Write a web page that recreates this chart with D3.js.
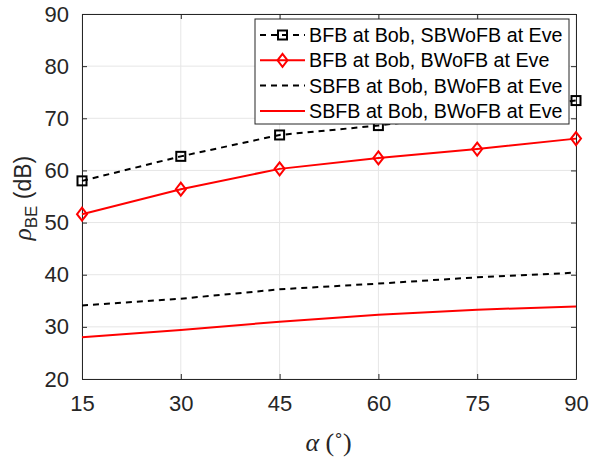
<!DOCTYPE html>
<html>
<head>
<meta charset="utf-8">
<script src="https://cdn.jsdelivr.net/npm/d3@7"></script>
<style>
  body { margin: 0; background: #fff; }
  svg { display: block; }
</style>
</head>
<body>
<svg id="chart" width="590" height="457"></svg>
<script>
const alphas = [15, 30, 45, 60, 75, 90];
const bfbSbwofb = [58.0, 62.7, 66.8, 68.6, 71.0, 73.4];
const bfbBwofb = [51.6, 56.4, 60.3, 62.4, 64.1, 66.1];
const sbfbBwofbDash = [34.1, 35.4, 37.2, 38.3, 39.5, 40.4];
const sbfbBwofbSolid = [28.0, 29.4, 31.0, 32.3, 33.3, 33.9];
const xTicks = [15, 30, 45, 60, 75, 90];
const yTicks = [20, 30, 40, 50, 60, 70, 80, 90];
const legendLabels = [
  "BFB at Bob, SBWoFB at Eve",
  "BFB at Bob, BWoFB at Eve",
  "SBFB at Bob, BWoFB at Eve",
  "SBFB at Bob, BWoFB at Eve"
];

const series = [
  { values: bfbSbwofb, color: "#000", dash: "6,5", marker: "square", label: legendLabels[0] },
  { values: bfbBwofb, color: "#ff0000", dash: null, marker: "diamond", label: legendLabels[1] },
  { values: sbfbBwofbDash, color: "#000", dash: "6,5", marker: null, label: legendLabels[2] },
  { values: sbfbBwofbSolid, color: "#ff0000", dash: null, marker: null, label: legendLabels[3] }
];

const svg = d3.select("#chart");
const L = 82, R = 576, T = 14, B = 379;
const x = d3.scaleLinear().domain([15, 90]).range([L, R]);
const y = d3.scaleLinear().domain([20, 90]).range([B, T]);
const axisColor = "#262626";
const font = "'Liberation Sans', Arial, Helvetica, sans-serif";
const serif = "'Liberation Serif', 'DejaVu Serif', serif";

// grid
const grid = svg.append("g");
xTicks.forEach(t => grid.append("line").attr("x1", x(t)).attr("x2", x(t)).attr("y1", T).attr("y2", B)
  .attr("stroke", "#e6e6e6").attr("stroke-width", 1));
yTicks.forEach(t => grid.append("line").attr("x1", L).attr("x2", R).attr("y1", y(t)).attr("y2", y(t))
  .attr("stroke", "#e6e6e6").attr("stroke-width", 1));

// axes (MATLAB box with inward ticks)
const tickLen = 5;
const xAxisB = d3.axisBottom(x).tickValues(xTicks).tickSize(-tickLen).tickPadding(tickLen + 11).tickSizeOuter(0);
const xAxisT = d3.axisTop(x).tickValues(xTicks).tickSize(-tickLen).tickFormat("").tickSizeOuter(0);
const yAxisL = d3.axisLeft(y).tickValues(yTicks).tickSize(-tickLen).tickPadding(tickLen + 8).tickSizeOuter(0);
const yAxisR = d3.axisRight(y).tickValues(yTicks).tickSize(-tickLen).tickFormat("").tickSizeOuter(0);

function styleAxis(g) {
  g.selectAll("path").attr("stroke", axisColor).attr("stroke-width", 1);
  g.selectAll("line").attr("stroke", axisColor).attr("stroke-width", 1);
  g.selectAll("text").attr("fill", axisColor).style("font-family", font).style("font-size", "22px");
}
svg.append("g").attr("transform", `translate(0,${B})`).call(xAxisB).call(styleAxis);
svg.append("g").attr("transform", `translate(0,${T})`).call(xAxisT).call(styleAxis);
svg.append("g").attr("transform", `translate(${L},0)`).call(yAxisL).call(styleAxis);
svg.append("g").attr("transform", `translate(${R},0)`).call(yAxisR).call(styleAxis);

// lines
const line = d3.line().x((d, i) => x(alphas[i])).y(d => y(d));
const plot = svg.append("g");

function drawMarker(g, type, cx, cy, color) {
  if (type === "square") {
    g.append("rect").attr("x", cx - 4.5).attr("y", cy - 4.5).attr("width", 9).attr("height", 9)
      .attr("fill", "none").attr("stroke", color).attr("stroke-width", 2);
  } else if (type === "diamond") {
    g.append("path").attr("d", `M${cx},${cy - 6.5}L${cx + 5},${cy}L${cx},${cy + 6.5}L${cx - 5},${cy}Z`)
      .attr("fill", "none").attr("stroke", color).attr("stroke-width", 2);
  }
}

series.forEach(s => {
  plot.append("path").datum(s.values).attr("d", line)
    .attr("fill", "none").attr("stroke", s.color).attr("stroke-width", 2)
    .attr("stroke-dasharray", s.dash);
  if (s.marker) {
    s.values.forEach((v, i) => drawMarker(plot, s.marker, x(alphas[i]), y(v), s.color));
  }
});

// legend
const lg = svg.append("g");
const lx = 255, ly = 19, lw = 314, lh = 105;
lg.append("rect").attr("x", lx).attr("y", ly).attr("width", lw).attr("height", lh)
  .attr("fill", "#fff").attr("stroke", axisColor).attr("stroke-width", 1);
series.forEach((s, i) => {
  const cy = 35 + i * 25.3;
  lg.append("line").attr("x1", 260).attr("x2", 305).attr("y1", cy).attr("y2", cy)
    .attr("stroke", s.color).attr("stroke-width", 2).attr("stroke-dasharray", s.dash);
  if (s.marker) drawMarker(lg, s.marker, 282.5, cy, s.color);
  lg.append("text").attr("x", 309).attr("y", cy).attr("dy", "0.36em")
    .style("font-family", font).style("font-size", "19.7px").attr("fill", "#000").text(s.label);
});

// x label
const xl = svg.append("text").attr("x", 328.5).attr("y", 451).attr("text-anchor", "middle")
  .attr("fill", axisColor).style("font-size", "26px").style("font-family", serif);
xl.append("tspan").style("font-style", "italic").text("α");
xl.append("tspan").text(" (˚)");

// y label
const yl = svg.append("text").attr("transform", "translate(31,198) rotate(-90)").attr("text-anchor", "middle")
  .attr("fill", axisColor).style("font-size", "23px").style("font-family", font);
yl.append("tspan").style("font-style", "italic").style("font-family", serif).style("font-size", "25px").text("ρ");
yl.append("tspan").attr("dy", 6).style("font-size", "17px").text("BE");
yl.append("tspan").attr("dy", -6).text(" (dB)");
</script>
</body>
</html>
